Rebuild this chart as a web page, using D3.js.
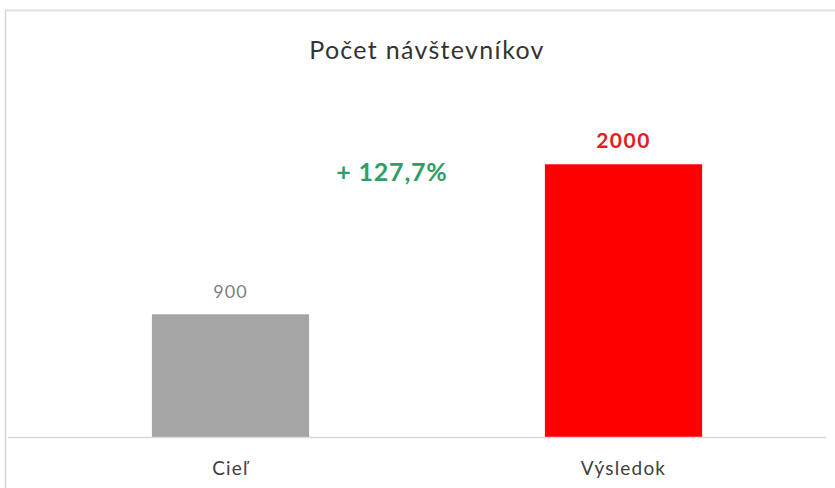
<!DOCTYPE html>
<html>
<head>
<meta charset="utf-8">
<script src="https://cdn.jsdelivr.net/npm/d3@7"></script>
<style>
  html, body { margin: 0; padding: 0; background: #fff; }
  svg { display: block; }
</style>
</head>
<body>
<svg id="chart" width="835" height="488"></svg>
<script>
// Visitor counts: target vs. actual
const categories = ["Cieľ", "Výsledok"];
const values = [900, 2000];
const barColors = ["#a5a5a5", "#ff0000"];
const labelColors = ["#7f7f7f", "#e02020"];
const title = "Počet návštevníkov";
const changeLabel = "+ 127,7%";

const W = 835, H = 488;
const svg = d3.select("#chart");
const font = "Lato, 'Open Sans', 'Liberation Sans', sans-serif";

// chart frame
svg.append("line").attr("x1", 5).attr("x2", W).attr("y1", 10.5).attr("y2", 10.5)
  .attr("stroke", "#e2e2e2").attr("stroke-width", 2);
svg.append("line").attr("x1", 5.5).attr("x2", 5.5).attr("y1", 10).attr("y2", H)
  .attr("stroke", "#d6d6d6").attr("stroke-width", 1.5);

const baseY = 437;
const x = d3.scaleBand().domain(categories).range([34, 820])
  .paddingInner(0.6).paddingOuter(0.3);
const y = d3.scaleLinear().domain([0, 2200]).range([baseY, baseY - 300]);

// title
svg.append("text").attr("x", 427).attr("y", 59)
  .attr("text-anchor", "middle")
  .attr("font-family", font).attr("font-size", 25)
  .attr("letter-spacing", 1.3)
  .attr("fill", "#333").text(title);

// bars
svg.selectAll("rect.bar").data(values).join("rect")
  .attr("class", "bar")
  .attr("x", (d, i) => x(categories[i]))
  .attr("width", x.bandwidth())
  .attr("y", d => y(d))
  .attr("height", d => y(0) - y(d))
  .attr("fill", (d, i) => barColors[i]);

// category axis
const axis = svg.append("g").attr("transform", `translate(0,${baseY})`)
  .call(d3.axisBottom(x).tickSize(0).tickPadding(25));
axis.select(".domain").remove();
svg.append("line").attr("x1", 8).attr("x2", 826).attr("y1", baseY + 0.5).attr("y2", baseY + 0.5)
  .attr("stroke", "#d9d9d9").attr("stroke-width", 1.5);
axis.selectAll("text")
  .attr("font-family", font).attr("font-size", 19)
  .attr("letter-spacing", 1.2)
  .attr("fill", "#404040");

// value labels
svg.selectAll("text.val").data(values).join("text")
  .attr("class", "val")
  .attr("x", (d, i) => x(categories[i]) + x.bandwidth() / 2)
  .attr("y", d => y(d) - 16)
  .attr("text-anchor", "middle")
  .attr("font-family", font)
  .attr("font-size", (d, i) => i === 1 ? 21 : 18)
  .attr("font-weight", (d, i) => i === 1 ? "bold" : "normal")
  .attr("letter-spacing", (d, i) => i === 1 ? 1.5 : 1)
  .attr("fill", (d, i) => labelColors[i])
  .text(d => d);

// change annotation
svg.append("text").attr("x", 392).attr("y", 181)
  .attr("text-anchor", "middle")
  .attr("font-family", font).attr("font-size", 25).attr("font-weight", "bold")
  .attr("letter-spacing", 0.8)
  .attr("fill", "#2f9e63").text(changeLabel);
</script>
</body>
</html>
